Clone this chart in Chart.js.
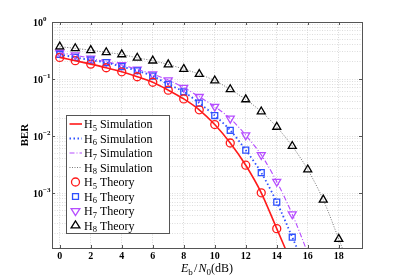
<!DOCTYPE html>
<html>
<head>
<meta charset="utf-8">
<script src="https://cdn.jsdelivr.net/npm/chart.js@4.4.0/dist/chart.umd.min.js"></script>
<style>
  html, body { margin: 0; padding: 0; background: #fff; }
</style>
</head>
<body>
<canvas id="berChart" width="399" height="280"></canvas>
<script>
// Eb/N0 points (dB)
const snr = [0, 1, 2, 3, 4, 5, 6, 7, 8, 9, 10, 11, 12, 13, 14, 15, 16, 17, 18, 19];
const xTicks = [0, 2, 4, 6, 8, 10, 12, 14, 16, 18];
const yDecades = [0, -1, -2, -3];

// theory values (markers)
const h5Theory = [0.24, 0.21, 0.183, 0.158, 0.134, 0.11, 0.088, 0.064, 0.045, 0.029, 0.016, 0.0076, 0.0031, 0.00102, 0.00024];
const h6Theory = [0.27, 0.24, 0.215, 0.194, 0.165, 0.14, 0.113, 0.081, 0.06, 0.038, 0.023, 0.0127, 0.0057, 0.0023, 0.0007, 0.00017];
const h7Theory = [0.29, 0.263, 0.23, 0.2, 0.176, 0.148, 0.122, 0.096, 0.071, 0.049, 0.033, 0.0204, 0.0104, 0.0047, 0.0016, 0.00043];
const h8Theory = [0.369, 0.346, 0.32, 0.294, 0.27, 0.236, 0.21, 0.18, 0.15, 0.122, 0.094, 0.066, 0.044, 0.027, 0.0145, 0.0067, 0.0026, 0.00077, 0.000158];

// simulation values (lines), they run past the bottom of the axis
const h5Sim = [0.24, 0.21, 0.183, 0.158, 0.134, 0.11, 0.088, 0.064, 0.045, 0.029, 0.016, 0.0076, 0.0031, 0.00102, 0.00024, 0.000056];
const h6Sim = [0.27, 0.24, 0.215, 0.194, 0.165, 0.14, 0.113, 0.081, 0.06, 0.038, 0.023, 0.0127, 0.0057, 0.0023, 0.0007, 0.00017, 0.00004];
const h7Sim = [0.29, 0.263, 0.23, 0.2, 0.176, 0.148, 0.122, 0.096, 0.071, 0.049, 0.033, 0.0204, 0.0104, 0.0047, 0.0016, 0.00043, 0.00009];
const h8Sim = [0.369, 0.346, 0.32, 0.294, 0.27, 0.236, 0.21, 0.18, 0.15, 0.122, 0.094, 0.066, 0.044, 0.027, 0.0145, 0.0067, 0.0026, 0.00077, 0.000158, 0.000032];

const legendNames = [
    ['5', 'Simulation'], ['6', 'Simulation'], ['7', 'Simulation'], ['8', 'Simulation'],
    ['5', 'Theory'], ['6', 'Theory'], ['7', 'Theory'], ['8', 'Theory']
];

const RED = '#ff1a1a', BLUE = '#2f50ff', PURPLE = '#b64dff', GREY = '#555555';
const SERIF = '"Liberation Serif", "DejaVu Serif", serif';

function toPoints(values) {
    return values.map((v, i) => ({ x: snr[i], y: v }));
}

function lineSet(values, color, width, dash) {
    return {
        data: toPoints(values), borderColor: color, borderWidth: width, borderDash: dash,
        pointRadius: 0, showLine: true, fill: false, tension: 0.3
    };
}

function markerSet(values, color, style, radius, rotation) {
    return {
        data: toPoints(values), borderColor: color, backgroundColor: 'rgba(0,0,0,0)',
        pointStyle: style, pointRadius: radius, pointRotation: rotation || 0,
        pointBorderWidth: 1.3, showLine: false
    };
}

const datasets = [
    lineSet(h5Sim, RED, 1.6, []),
    lineSet(h6Sim, BLUE, 1.8, [1.5, 2.5]),
    lineSet(h7Sim, PURPLE, 1.1, [5, 2, 1, 2]),
    lineSet(h8Sim, GREY, 0.8, [1, 1.5]),
    markerSet(h5Theory, RED, 'circle', 4),
    markerSet(h6Theory, BLUE, 'rect', 4.2),
    markerSet(h7Theory, PURPLE, 'triangle', 4.6, 180),
    markerSet(h8Theory, '#000000', 'triangle', 4.6)
];

// draw text pieces one after another: [text, font, dy]
function drawPieces(ctx, pieces, x, y) {
    pieces.forEach(p => {
        ctx.font = p[1];
        ctx.fillText(p[0], x, y + (p[2] || 0));
        x += ctx.measureText(p[0]).width;
    });
}
function piecesWidth(ctx, pieces) {
    let w = 0;
    pieces.forEach(p => { ctx.font = p[1]; w += ctx.measureText(p[0]).width; });
    return w;
}

function drawMarker(ctx, ds, x, y) {
    const r = ds.pointRadius;
    ctx.save();
    ctx.strokeStyle = ds.borderColor;
    ctx.lineWidth = ds.pointBorderWidth;
    ctx.beginPath();
    if (ds.pointStyle === 'circle') {
        ctx.arc(x, y, r, 0, Math.PI * 2);
    } else if (ds.pointStyle === 'rect') {
        const s = Math.SQRT1_2 * r;
        ctx.rect(x - s, y - s, 2 * s, 2 * s);
    } else {
        const dir = ds.pointRotation === 180 ? -1 : 1;
        ctx.moveTo(x, y - dir * r);
        ctx.lineTo(x - r * 0.95, y + dir * r * 0.5);
        ctx.lineTo(x + r * 0.95, y + dir * r * 0.5);
        ctx.closePath();
    }
    ctx.stroke();
    ctx.restore();
}

const decorations = {
    id: 'decorations',
    afterDraw(chart) {
        const ctx = chart.ctx;
        const a = chart.chartArea;
        const xs = chart.scales.x, ys = chart.scales.y;
        ctx.save();

        // frame and tick marks
        ctx.strokeStyle = '#555';
        ctx.lineWidth = 1;
        ctx.strokeRect(Math.round(a.left) + 0.5, Math.round(a.top) + 0.5,
            Math.round(a.right - a.left), Math.round(a.bottom - a.top));
        ctx.beginPath();
        xTicks.forEach(v => {
            const px = Math.round(xs.getPixelForValue(v)) + 0.5;
            ctx.moveTo(px, a.bottom); ctx.lineTo(px, a.bottom - 3);
            ctx.moveTo(px, a.top); ctx.lineTo(px, a.top + 3);
        });
        yDecades.forEach(k => {
            const py = Math.round(ys.getPixelForValue(Math.pow(10, k))) + 0.5;
            ctx.moveTo(a.left, py); ctx.lineTo(a.left + 3, py);
            ctx.moveTo(a.right, py); ctx.lineTo(a.right - 3, py);
        });
        ctx.stroke();

        // tick labels
        ctx.fillStyle = '#000';
        ctx.textBaseline = 'alphabetic';
        ctx.textAlign = 'left';
        yDecades.forEach(k => {
            const py = ys.getPixelForValue(Math.pow(10, k));
            const sup = k === 0 ? '0' : '\u2212' + (-k);
            drawPieces(ctx, [['10', 'bold 10px ' + SERIF], [sup, 'bold 7px ' + SERIF, -5]], 33, py + 4);
        });
        ctx.textAlign = 'center';
        ctx.font = 'bold 10px ' + SERIF;
        xTicks.forEach(v => {
            ctx.fillText(String(v), xs.getPixelForValue(v), 259);
        });

        // axis titles
        ctx.textAlign = 'left';
        const xt = [
            ['E', 'italic 12px ' + SERIF], ['b', '9px ' + SERIF, 2.5], [' ', '5px ' + SERIF],
            ['/', '12px ' + SERIF], [' ', '4px ' + SERIF], ['N', 'italic 12px ' + SERIF],
            ['0', '9px ' + SERIF, 2.5], ['(dB)', '12px ' + SERIF]
        ];
        const cx = (a.left + a.right) / 2;
        drawPieces(ctx, xt, cx - piecesWidth(ctx, xt) / 2, 272);

        ctx.save();
        ctx.translate(28, (a.top + a.bottom) / 2);
        ctx.rotate(-Math.PI / 2);
        ctx.textAlign = 'center';
        ctx.font = 'bold 11px ' + SERIF;
        ctx.fillText('BER', 0, 0);
        ctx.restore();

        // legend
        const lx = 66.5, ly = 115.5, lw = 103, lh = 118;
        ctx.fillStyle = '#fff';
        ctx.fillRect(lx, ly, lw, lh);
        ctx.strokeStyle = '#555';
        ctx.lineWidth = 1;
        ctx.strokeRect(lx, ly, lw, lh);
        legendNames.forEach((n, i) => {
            const ds = datasets[i];
            const cy = 124 + i * 14.5;
            if (i < 4) {
                ctx.save();
                ctx.strokeStyle = ds.borderColor;
                ctx.lineWidth = ds.borderWidth;
                ctx.setLineDash(ds.borderDash);
                ctx.beginPath();
                ctx.moveTo(69.5, cy); ctx.lineTo(82, cy);
                ctx.stroke();
                ctx.restore();
            } else {
                drawMarker(ctx, ds, 75.5, cy);
            }
            ctx.fillStyle = '#000';
            ctx.textAlign = 'left';
            drawPieces(ctx, [['H', '12px ' + SERIF], [n[0], '8.5px ' + SERIF, 2.5],
                [' ' + n[1], '12px ' + SERIF]], 84, cy + 4);
        });
        ctx.restore();
    }
};

function logTicks(scale) {
    const ticks = [];
    for (let e = -4; e <= 0; e++) {
        for (let m = 1; m <= 9; m++) {
            const v = m * Math.pow(10, e);
            if (v >= scale.min - 1e-12 && v <= scale.max + 1e-12) ticks.push({ value: v });
        }
    }
    scale.ticks = ticks;
}

new Chart(document.getElementById('berChart'), {
    type: 'scatter',
    data: { datasets: datasets },
    options: {
        responsive: false,
        animation: false,
        devicePixelRatio: 1,
        layout: { padding: { left: 52, right: 37, top: 22, bottom: 32 } },
        plugins: { legend: { display: false }, tooltip: { enabled: false } },
        scales: {
            x: {
                type: 'linear', min: -0.5, max: 19.5,
                afterBuildTicks: s => { s.ticks = xTicks.map(v => ({ value: v })); },
                afterFit: s => { s.height = 0; },
                ticks: { display: false },
                grid: { color: '#cfcfcf', lineWidth: 0.8, drawTicks: false },
                border: { display: false, dash: [1, 1.5] }
            },
            y: {
                type: 'logarithmic', min: 1.1e-4, max: 1,
                afterBuildTicks: logTicks,
                afterFit: s => { s.width = 0; },
                ticks: { display: false },
                grid: { color: '#d4d4d4', lineWidth: 0.8, drawTicks: false },
                border: { display: false, dash: [1, 1.5] }
            }
        }
    },
    plugins: [decorations]
});
</script>
</body>
</html>
